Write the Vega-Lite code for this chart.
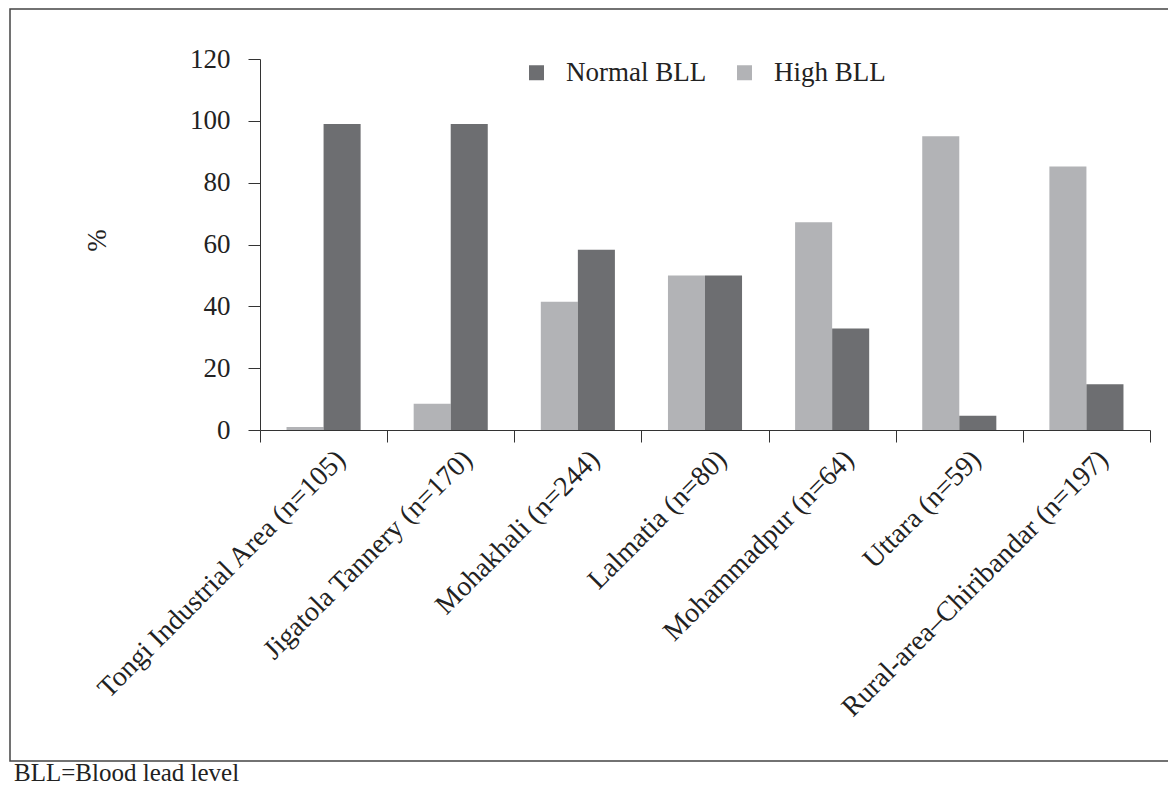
{
  "$schema": "https://vega.github.io/schema/vega-lite/v6.json",
  "autosize": {"type": "none"},
  "width": 1160,
  "height": 752,
  "padding": {"left": 10, "top": 9, "right": 0, "bottom": 27},
  "background": "white",
  "config": {
    "font": "Liberation Serif",
    "view": {"stroke": "#444444", "strokeWidth": 1.5, "fill": "white"},
    "axis": {"domainColor": "#333333", "tickColor": "#333333", "labelColor": "#222222", "titleColor": "#222222", "grid": false, "labelFont": "Liberation Serif", "titleFont": "Liberation Serif"}
  },
  "title": {
    "text": "BLL=Blood lead level",
    "orient": "bottom",
    "anchor": "start",
    "frame": "group",
    "font": "Liberation Serif",
    "fontSize": 25,
    "fontWeight": "normal",
    "color": "#222222",
    "offset": 0,
    "dx": 4
  },
  "data": {
    "values": [
      {"site": "Tongi Industrial Area (n=105)", "group": "High BLL", "value": 1},
      {"site": "Tongi Industrial Area (n=105)", "group": "Normal BLL", "value": 99},
      {"site": "Jigatola Tannery (n=170)", "group": "High BLL", "value": 8.5},
      {"site": "Jigatola Tannery (n=170)", "group": "Normal BLL", "value": 99},
      {"site": "Mohakhali (n=244)", "group": "High BLL", "value": 41.5},
      {"site": "Mohakhali (n=244)", "group": "Normal BLL", "value": 58.3},
      {"site": "Lalmatia (n=80)", "group": "High BLL", "value": 50},
      {"site": "Lalmatia (n=80)", "group": "Normal BLL", "value": 50},
      {"site": "Mohammadpur (n=64)", "group": "High BLL", "value": 67.2},
      {"site": "Mohammadpur (n=64)", "group": "Normal BLL", "value": 32.8},
      {"site": "Uttara (n=59)", "group": "High BLL", "value": 95},
      {"site": "Uttara (n=59)", "group": "Normal BLL", "value": 4.6},
      {"site": "Rural-area–Chiribandar (n=197)", "group": "High BLL", "value": 85.2},
      {"site": "Rural-area–Chiribandar (n=197)", "group": "Normal BLL", "value": 14.8}
    ]
  },
  "mark": {"type": "bar"},
  "encoding": {
    "x": {
      "field": "site",
      "type": "nominal",
      "sort": null,
      "scale": {"range": [250, 1140], "paddingInner": 0, "paddingOuter": 0},
      "axis": {
        "title": null,
        "orient": "bottom",
        "offset": -331,
        "tickBand": "extent",
        "tickSize": 12,
        "labelAngle": -45,
        "labelAlign": "right",
        "labelBaseline": "middle",
        "labelFontSize": 28,
        "labelPadding": 13,
        "labelOffset": 17,
        "labelLimit": 0
      }
    },
    "xOffset": {
      "field": "group",
      "type": "nominal",
      "sort": ["High BLL", "Normal BLL"],
      "scale": {"paddingInner": 0, "paddingOuter": 0.716}
    },
    "y": {
      "field": "value",
      "type": "quantitative",
      "scale": {"domain": [0, 120], "range": [421, 50], "nice": false},
      "axis": {
        "title": "%",
        "orient": "left",
        "offset": -250,
        "values": [0, 20, 40, 60, 80, 100, 120],
        "tickSize": 12,
        "labelPadding": 18,
        "labelFontSize": 27,
        "titleFontSize": 27,
        "titleFontWeight": "normal",
        "titleAngle": -90,
        "titleAlign": "center",
        "titleBaseline": "middle",
        "titleX": -163,
        "titleY": 231
      }
    },
    "color": {
      "field": "group",
      "type": "nominal",
      "scale": {"domain": ["Normal BLL", "High BLL"], "range": ["#6d6e71", "#b2b3b6"]},
      "legend": {
        "title": null,
        "orient": "none",
        "direction": "horizontal",
        "legendX": 513,
        "legendY": 50,
        "padding": 0,
        "symbolType": "square",
        "symbolSize": 225,
        "symbolStrokeWidth": 0,
        "labelFontSize": 27,
        "labelFont": "Liberation Serif",
        "labelColor": "#222222",
        "labelOffset": 16,
        "columnPadding": 24
      }
    }
  }
}
